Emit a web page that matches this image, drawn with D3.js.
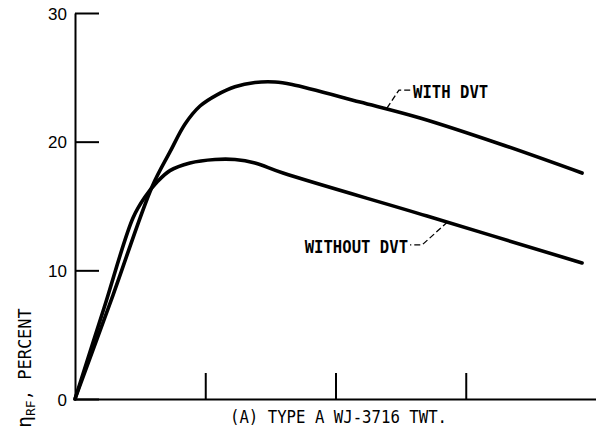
<!DOCTYPE html>
<html>
<head>
<meta charset="utf-8">
<script src="https://cdn.jsdelivr.net/npm/d3@7"></script>
<style>
  body { margin: 0; background: #fff; }
  svg { display: block; }
  .lbl { font-family: "DejaVu Sans Mono", monospace; font-size: 17px; fill: #000; }
  .tick text { font-family: "Liberation Sans", Arial, sans-serif; font-size: 17px; fill: #000; }
</style>
</head>
<body>
<div id="chart"></div>
<script>
// curve values (x in tick units, y in percent)
var withX    = [0, 0.292, 0.591, 0.729, 0.845, 0.960, 1.090, 1.228, 1.382, 1.536, 1.666, 2.188, 2.649, 3.263, 3.893];
var withY    = [0, 8.08, 16.48, 19.20, 21.37, 22.77, 23.64, 24.27, 24.60, 24.64, 24.44, 23.08, 21.84, 19.82, 17.56];
var withoutX = [0, 0.223, 0.445, 0.537, 0.630, 0.729, 0.883, 1.075, 1.228, 1.382, 1.597, 2.703, 3.893];
var withoutY = [0, 7.07, 14.07, 15.70, 16.86, 17.75, 18.34, 18.61, 18.61, 18.34, 17.56, 14.22, 10.57];
var yTicks = [0, 10, 20, 30];
var xTicks = [1, 2, 3];
var captionText = "(A) TYPE A WJ-3716 TWT.";

var W = 596, H = 430;
var margin = { left: 75, right: 0, top: 13, bottom: 31 };
var width = W - margin.left - margin.right;
var height = H - margin.top - margin.bottom;

var svg = d3.select("#chart").append("svg")
    .attr("width", W)
    .attr("height", H);

var g = svg.append("g")
    .attr("transform", "translate(" + margin.left + "," + margin.top + ")");

// Scales
var x = d3.scaleLinear().domain([0, 4]).range([0, width]);
var y = d3.scaleLinear().domain([0, 30]).range([height, 0]);

// Axes
var yAxis = g.append("g")
    .call(d3.axisLeft(y).tickValues(yTicks).tickSize(-24).tickSizeOuter(0).tickPadding(8));
var xAxis = g.append("g")
    .attr("transform", "translate(0," + height + ")")
    .call(d3.axisBottom(x).tickValues(xTicks).tickSize(-26).tickSizeOuter(0).tickFormat(""));
svg.selectAll(".domain, .tick line")
    .attr("stroke", "#000")
    .attr("stroke-width", 2);
yAxis.selectAll(".tick text").attr("dy", "0.36em");

// Curves
var line = d3.line()
    .x(function(d){ return x(d[0]); })
    .y(function(d){ return y(d[1]); })
    .curve(d3.curveCatmullRom.alpha(0.5));

var withPts = withX.map(function(v, i){ return [v, withY[i]]; });
var withoutPts = withoutX.map(function(v, i){ return [v, withoutY[i]]; });

[withPts, withoutPts].forEach(function(pts){
    g.append("path")
        .attr("d", line(pts))
        .attr("fill", "none")
        .attr("stroke", "#000")
        .attr("stroke-width", 3.6)
        .attr("stroke-linecap", "round");
});

// Callout labels with dashed leaders
function callout(px, py, lx, ly, text, anchorRight) {
    var p = [x(px), y(py)];
    var tx = x(lx), ty = y(ly);
    var elbow = anchorRight ? [tx + 14, ty - 8] : [tx - 14, ty - 8];
    var end = anchorRight ? [tx + 2, ty - 8] : [tx - 2, ty - 8];
    g.append("path")
        .attr("d", "M" + p + "L" + elbow + "L" + end)
        .attr("fill", "none")
        .attr("stroke", "#000")
        .attr("stroke-width", 1.3)
        .attr("stroke-dasharray", "6,3");
    g.append("text")
        .attr("class", "lbl")
        .attr("x", tx)
        .attr("y", ty)
        .attr("text-anchor", anchorRight ? "end" : "start")
        .attr("textLength", text.length * 9.4)
        .attr("lengthAdjust", "spacingAndGlyphs")
        .style("font-weight", "bold")
        .text(text);
}
callout(2.395, 22.6, 2.595, 23.39, "WITH DVT", false);
callout(2.86, 13.75, 2.557, 11.35, "WITHOUT DVT", true);

// Caption under x axis
svg.append("text")
    .attr("class", "lbl")
    .attr("x", 230)
    .attr("y", 423)
    .attr("textLength", 217)
    .attr("lengthAdjust", "spacingAndGlyphs")
    .text(captionText);

// Y label
var yl = svg.append("text")
    .attr("class", "lbl")
    .attr("transform", "translate(31,428) rotate(-90)")
    .attr("text-anchor", "start");
yl.append("tspan").style("font-size", "20px").text("\u03b7");
yl.append("tspan").attr("dy", 4).style("font-size", "13px").text("RF");
yl.append("tspan").attr("dy", -4).text(", PERCENT");
</script>
</body>
</html>
